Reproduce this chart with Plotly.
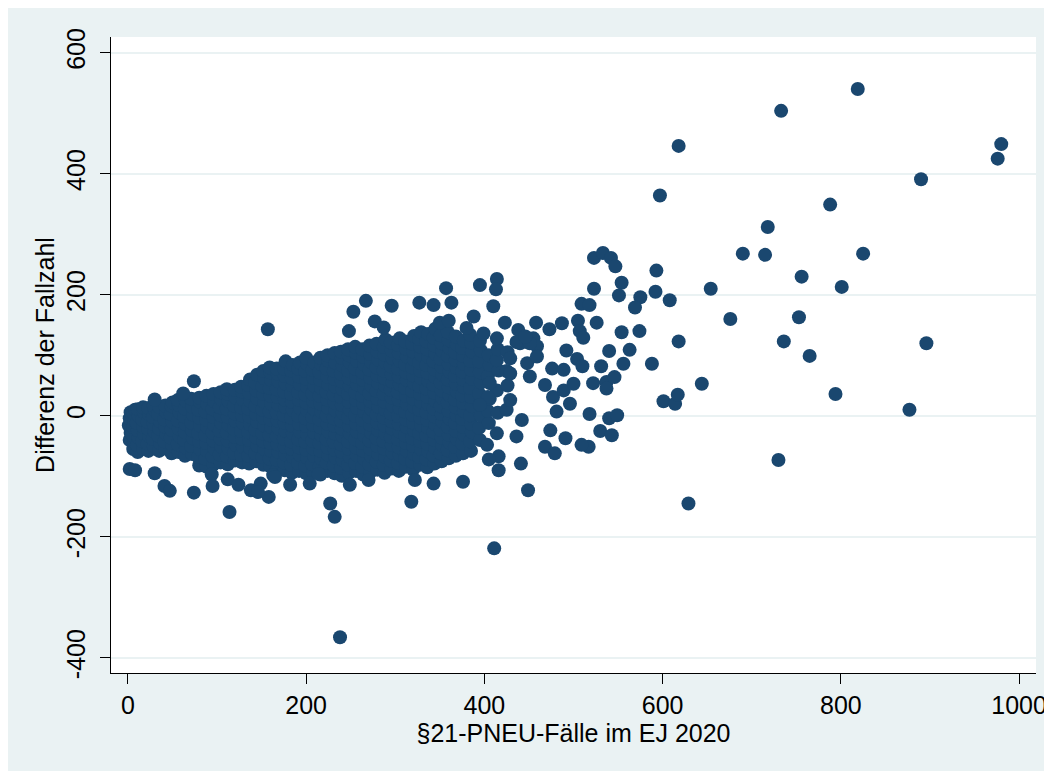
import plotly.graph_objects as go

# ---- data ----
cluster_left = [
    (2,-40),(3,-28),(1,-16),(2,-4),(3,6),
    (6,-55),(7,-43),(5,-31),(6,-19),(7,-7),(6,5),(8,10),
    (11,-60),(10,-48),(12,-36),(11,-24),(10,-12),(12,0),(11,11),
    (17,-54),(16,-42),(18,-30),(17,-18),(16,-6),(18,6),(17,14),
    (23,-58),(22,-46),(24,-34),(23,-22),(22,-10),(24,2),(23,13),
    (29,-50),(28,-38),(30,-26),(29,-14),(28,-2),(30,10),(29,16),
    (35,-58),(36,-45),(34,-33),(35,-21),(36,-9),(34,3),(35,15),
    (42,-54),(41,-42),(43,-30),(42,-18),(41,-6),(43,6),(42,17),
    (49,-62),(50,-49),(48,-36),(49,-23),(50,-10),(48,3),(49,16),(50,22),
    (57,-60),(56,-47),(58,-34),(57,-21),(56,-8),(58,5),(57,18),(56,26),
    (64,-66),(65,-53),(63,-40),(64,-27),(65,-14),(63,-1),(64,12),(65,25),
    (72,-63),(71,-50),(73,-37),(72,-24),(71,-11),(73,2),(72,15),(71,28),
    (80,-82),(79,-68),(81,-55),(80,-42),(79,-29),(81,-16),(80,-3),(79,10),(81,23),(80,30),
    (88,-84),(87,-71),(89,-58),(88,-45),(87,-32),(89,-19),(88,-6),(87,7),(89,20),(88,33),
    (96,-80),(95,-67),(97,-54),(96,-41),(95,-28),(97,-15),(96,-2),(95,11),(97,24),(96,36),
    (104,-77),(103,-64),(105,-51),(104,-38),(103,-25),(105,-12),(104,1),(103,14),(105,27),(104,39),
    (112,-80),(111,-67),(113,-54),(112,-41),(111,-28),(113,-15),(112,-2),(111,11),(113,24),(112,37),(111,44),
    (120,-74),(119,-61),(121,-48),(120,-35),(119,-22),(121,-9),(120,4),(119,17),(121,30),(120,43),
    (128,-77),(127,-64),(129,-51),(128,-38),(127,-25),(129,-12),(128,1),(127,14),(129,27),(128,40),(127,48),
]

cluster_mid = [
    (136,-79),(135,-66),(137,-53),(136,-40),(135,-27),(137,-14),(136,-1),(135,12),(137,25),(136,38),(135,51),(137,60),
    (144,-75),(143,-62),(145,-49),(144,-36),(143,-23),(145,-10),(144,3),(143,16),(145,29),(144,42),(143,55),(145,68),
    (152,-81),(151,-68),(153,-55),(152,-42),(151,-29),(153,-16),(152,-3),(151,10),(153,23),(152,36),(151,49),(153,62),(152,74),
    (160,-84),(159,-71),(161,-58),(160,-45),(159,-32),(161,-19),(160,-6),(159,7),(161,20),(160,33),(159,46),(161,59),(160,72),(159,80),
    (168,-86),(167,-73),(169,-60),(168,-47),(167,-34),(169,-21),(168,-8),(167,5),(169,18),(168,31),(167,44),(169,57),(168,70),(167,78),
    (176,-90),(175,-77),(177,-64),(176,-51),(175,-38),(177,-25),(176,-12),(175,1),(177,14),(176,27),(175,40),(177,53),(176,66),(175,78),(177,90),
    (184,-94),(183,-81),(185,-68),(184,-55),(183,-42),(185,-29),(184,-16),(183,-3),(185,10),(184,23),(183,36),(185,49),(184,62),(183,75),(185,84),
    (192,-91),(191,-78),(193,-65),(192,-52),(191,-39),(193,-26),(192,-13),(191,0),(193,13),(192,26),(191,39),(193,52),(192,65),(191,78),(193,88),
    (200,-95),(199,-82),(201,-69),(200,-56),(199,-43),(201,-30),(200,-17),(199,-4),(201,9),(200,22),(199,35),(201,48),(200,61),(199,74),(201,86),(200,96),
    (208,-93),(207,-80),(209,-67),(208,-54),(207,-41),(209,-28),(208,-15),(207,-2),(209,11),(208,24),(207,37),(209,50),(208,63),(207,76),(209,88),
    (216,-97),(215,-84),(217,-71),(216,-58),(215,-45),(217,-32),(216,-19),(215,-6),(217,7),(216,20),(215,33),(217,46),(216,59),(215,72),(217,85),(216,96),
    (224,-91),(223,-78),(225,-65),(224,-52),(223,-39),(225,-26),(224,-13),(223,0),(225,13),(224,26),(223,39),(225,52),(224,65),(223,78),(225,91),(224,100),
    (232,-95),(231,-82),(233,-69),(232,-56),(231,-43),(233,-30),(232,-17),(231,-4),(233,9),(232,22),(231,35),(233,48),(232,61),(231,74),(233,87),(232,104),
    (240,-99),(239,-86),(241,-73),(240,-60),(239,-47),(241,-34),(240,-21),(239,-8),(241,5),(240,18),(239,31),(241,44),(240,57),(239,70),(241,83),(240,96),(239,106),
    (248,-94),(247,-81),(249,-68),(248,-55),(247,-42),(249,-29),(248,-16),(247,-3),(249,10),(248,23),(247,36),(249,49),(248,62),(247,75),(249,88),(248,100),(247,110),
    (256,-91),(255,-78),(257,-65),(256,-52),(255,-39),(257,-26),(256,-13),(255,0),(257,13),(256,26),(255,39),(257,52),(256,65),(255,78),(257,91),(256,104),(255,114),
]

cluster_right = [
    (264,-97),(263,-84),(265,-71),(264,-58),(263,-45),(265,-32),(264,-19),(263,-6),(265,7),(264,20),(263,33),(265,46),(264,59),(263,72),(265,85),(264,98),(263,110),
    (272,-93),(271,-80),(273,-67),(272,-54),(271,-41),(273,-28),(272,-15),(271,-2),(273,11),(272,24),(271,37),(273,50),(272,63),(271,76),(273,89),(272,102),(271,116),
    (280,-89),(279,-76),(281,-63),(280,-50),(279,-37),(281,-24),(280,-11),(279,2),(281,15),(280,28),(279,41),(281,54),(280,67),(279,80),(281,93),(280,106),(279,119),
    (288,-94),(287,-81),(289,-68),(288,-55),(287,-42),(289,-29),(288,-16),(287,-3),(289,10),(288,23),(287,36),(289,49),(288,62),(287,75),(289,88),(288,101),(287,114),(289,126),
    (296,-87),(295,-74),(297,-61),(296,-48),(295,-35),(297,-22),(296,-9),(295,4),(297,17),(296,30),(295,43),(297,56),(296,69),(295,82),(297,95),(296,108),(295,121),
    (304,-91),(303,-78),(305,-65),(304,-52),(303,-39),(305,-26),(304,-13),(303,0),(305,13),(304,26),(303,39),(305,52),(304,65),(303,78),(305,91),(304,104),(303,117),(305,128),
    (312,-84),(311,-71),(313,-58),(312,-45),(311,-32),(313,-19),(312,-6),(311,7),(313,20),(312,33),(311,46),(313,59),(312,72),(311,85),(313,98),(312,111),(311,123),
    (320,-89),(319,-76),(321,-63),(320,-50),(319,-37),(321,-24),(320,-11),(319,2),(321,15),(320,28),(319,41),(321,54),(320,67),(319,80),(321,93),(320,106),(319,119),(321,132),
    (328,-81),(327,-68),(329,-55),(328,-42),(327,-29),(329,-16),(328,-3),(327,10),(329,23),(328,36),(327,49),(329,62),(328,75),(327,88),(329,101),(328,114),(327,127),(329,138),
    (336,-85),(335,-72),(337,-59),(336,-46),(335,-33),(337,-20),(336,-7),(335,6),(337,19),(336,32),(335,45),(337,58),(336,71),(335,84),(337,97),(336,110),(335,123),(337,135),
    (344,-79),(343,-66),(345,-53),(344,-40),(343,-27),(345,-14),(344,-1),(343,12),(345,25),(344,38),(343,51),(345,64),(344,77),(343,90),(345,103),(344,116),(343,129),(345,144),
    (352,-75),(351,-62),(353,-49),(352,-36),(351,-23),(353,-10),(352,3),(351,16),(353,29),(352,42),(351,55),(353,68),(352,81),(351,94),(353,107),(352,120),(351,133),
    (360,-70),(359,-57),(361,-44),(360,-31),(359,-18),(361,-5),(360,8),(359,21),(361,34),(360,47),(359,60),(361,73),(360,86),(359,99),(361,112),(360,125),(359,138),
    (368,-66),(367,-51),(369,-38),(368,-25),(367,-12),(369,1),(368,14),(367,27),(369,40),(368,53),(367,66),(369,79),(368,92),(367,105),(369,118),(368,131),
    (376,-62),(375,-46),(377,-31),(376,-18),(375,-5),(377,8),(376,21),(375,34),(377,47),(376,60),(375,73),(377,86),(376,99),(375,112),(377,124),
    (385,-58),(384,-42),(386,-27),(385,-13),(384,1),(386,16),(385,31),(384,46),(386,61),(385,76),(384,91),(386,106),(385,121),(384,134),
    (395,-40),(394,-20),(396,0),(395,20),(394,37),(396,55),(395,72),(394,90),(396,108),(395,124),
    (405,-12),(404,8),(406,28),(404,66),(406,84),(405,100),
    (415,5),(414,42),(416,75),(414,92),(415,110),
    (425,10),(426,50),(425,74),(426,105),
]

scattered = [
    (2,-88),(8,-90),(30,-95),(41,-116),(47,-124),(74,-127),(114,-159),(94,-97),(95,-116),
    (112,-105),(124,-114),(138,-123),(149,-112),(158,-134),(163,-98),(146,-126),(182,-114),
    (204,-112),(214,-96),(165,-101),(74,57),(62,37),(30,27),(157,143),
    (227,-145),(232,-167),(238,-366),(249,-114),(270,-106),(322,-106),(318,-142),(343,-112),
    (376,-109),(411,-219),(449,-123),(441,-79),(416,-90),(416,-67),(405,-72),(403,-48),
    (414,-29),(436,-34),(442,-7),(468,-51),(479,-62),(474,-24),(491,-37),
    (248,140),(253,172),(267,190),(277,156),(287,146),(296,182),(327,187),(343,183),
    (350,154),(360,157),(357,211),(363,187),(380,145),(388,164),(395,216),(414,226),(413,209),
    (410,181),(399,136),(414,128),(423,154),(438,142),(440,120),(455,128),(459,115),
    (436,122),(451,120),(446,131),(448,87),(459,98),(451,65),(468,51),(429,95),(429,70),
    (429,26),(406,54),(404,31),(395,18),(476,78),(489,76),(492,108),(504,94),(510,82),
    (477,31),(489,42),(500,53),(481,7),(496,20),(458,154),(473,143),(487,153),(505,157),
    (507,140),(511,129),(526,154),(523,210),(509,185),(518,183),(523,261),(533,269),(542,261),
    (547,247),(554,220),(551,199),(575,196),(569,179),(554,138),(574,140),(540,107),(563,109),
    (556,86),(531,82),(522,54),(537,56),(546,64),(537,45),(518,3),(540,-4),(549,1),
    (530,-25),(543,-32),(517,-51),(509,-48),
]

outliers = [
    (819,540),(733,504),(618,446),(980,449),(976,425),(890,391),(597,364),(788,349),
    (718,312),(690,268),(715,266),(825,268),(756,230),(801,213),(654,210),(593,240),
    (592,205),(608,191),(676,160),(753,163),(736,123),(765,99),(896,120),(618,123),
    (588,86),(644,53),(794,36),(877,10),(601,24),(614,20),(617,35),(730,-73),(629,-145),
]

x_ticks = [0, 200, 400, 600, 800, 1000]
y_ticks = [-400, -200, 0, 200, 400, 600]
x_title = "§21-PNEU-Fälle im EJ 2020"
y_title = "Differenz der Fallzahl"

points = cluster_left + cluster_mid + cluster_right + scattered + outliers
xs = [p[0] for p in points]
ys = [p[1] for p in points]

BG = "#eaf2f3"
NAVY = "#1a476f"
FONT = "Liberation Sans, Arial, sans-serif"

fig = go.Figure(go.Scatter(
    x=xs, y=ys, mode="markers",
    marker=dict(size=14, color=NAVY, line=dict(width=0)),
    hoverinfo="x+y",
))

# page body has an 8px margin, so figure coords = screen coords - 8
W, H = 1052, 771
L, R, T, B = 103, 24, 29, 106

fig.update_layout(
    width=W, height=H,
    margin=dict(l=L, r=R, t=T, b=B, pad=0),
    paper_bgcolor=BG,
    plot_bgcolor="white",
    showlegend=False,
    font=dict(family=FONT, size=25, color="black"),
    xaxis=dict(
        range=[-19, 1019], tickvals=x_ticks, ticktext=[str(v) for v in x_ticks],
        showgrid=False, zeroline=False,
        showline=True, linecolor="black", linewidth=1.3,
        ticks="outside", ticklen=10, tickwidth=1.3, tickcolor="black",
        tickfont=dict(size=25),
        title=dict(text=x_title, font=dict(size=25), standoff=4),
        automargin=False,
    ),
    yaxis=dict(
        range=[-425, 626], tickvals=y_ticks, ticktext=[str(v) for v in y_ticks],
        tickangle=-90, ticklabelstandoff=5,
        showgrid=True, gridcolor=BG, gridwidth=2, zeroline=False,
        showline=True, linecolor="black", linewidth=1.3,
        ticks="outside", ticklen=10, tickwidth=1.3, tickcolor="black",
        tickfont=dict(size=25),
        title=dict(text=y_title, font=dict(size=25), standoff=0),
        automargin=False,
    ),
)

fig.write_html("out.html")
